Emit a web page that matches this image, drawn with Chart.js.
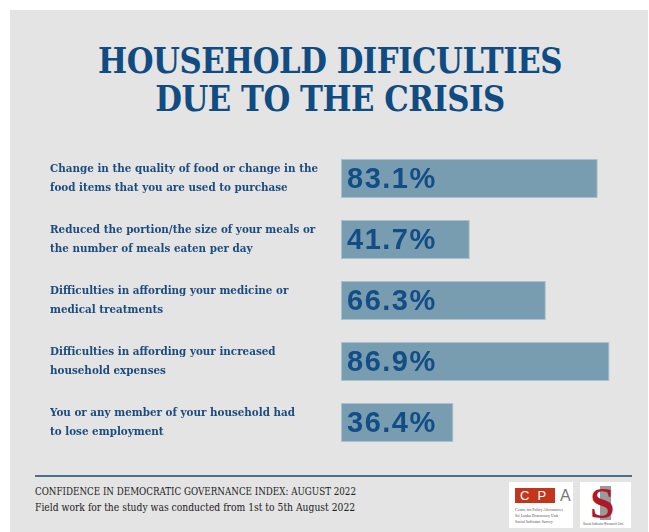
<!DOCTYPE html>
<html>
<head>
<meta charset="utf-8">
<script src="https://cdn.jsdelivr.net/npm/chart.js@4/dist/chart.umd.min.js"></script>
<style>
  html, body { margin: 0; padding: 0; background: #fff; overflow: hidden; }
  body { width: 649px; height: 532px; position: relative; }
  #panel { position: absolute; left: 10px; top: 10px; width: 638px; height: 522px; background: #e4e4e4; }
  #title {
    position: absolute; left: 0; width: 660px; top: 41px; text-align: center;
    font-family: "DejaVu Serif Condensed", serif; font-weight: bold;
    font-size: 36px; line-height: 38px; color: #104c82; letter-spacing: -0.5px;
    transform: scaleX(0.95); transform-origin: 330px 0;
  }
  #wrap { position: absolute; left: 0; top: 140px; width: 650px; height: 320px; }
  #rule { position: absolute; left: 35px; top: 475px; width: 597px; height: 2px; background: #4e6f88; }
  .foot {
    position: absolute; left: 35px; font-family: "DejaVu Serif Condensed", serif;
    font-size: 10.5px; line-height: 16px; color: #222; white-space: nowrap; transform-origin: 0 0;
  }
  #f1 { top: 483px; transform: scaleX(0.925); }
  #f2 { top: 499px; transform: scaleX(0.975); }
  .logo { position: absolute; top: 482px; height: 46px; background: #fff; }
  #cpa { left: 509px; width: 64px; }
  #cpa .red { position: absolute; left: 6px; top: 6px; width: 40px; height: 15px; background: #c2361e; color: #fff;
    font: 13px "Liberation Sans", sans-serif; line-height: 15px; letter-spacing: 8px; text-indent: 5px; }
  #cpa .a { position: absolute; left: 51px; top: 5px; font: 16px "Liberation Sans", sans-serif; color: #777; }
  #cpa .small { position: absolute; left: 6px; top: 25px; width: 56px; font: 4px "Liberation Serif", serif; color: #555; line-height: 6px; }
  #ss { left: 580px; width: 51px; }
  #ss .i { position: absolute; left: 20px; top: 4px; width: 11px; height: 34px; background: #9a9a9a; }
  #ss .s { position: absolute; left: 10px; top: -4px; font: bold 44px "Liberation Serif", serif; color: #b0182a; }
  #ss .cap { position: absolute; left: 3px; top: 40px; font: 3px "Liberation Sans", sans-serif; color: #555; }
</style>
</head>
<body>
<div id="panel"></div>
<div id="title">HOUSEHOLD DIFICULTIES<br>DUE TO THE CRISIS</div>
<div id="wrap"><canvas id="chart"></canvas></div>
<div id="rule"></div>
<div class="foot" id="f1">CONFIDENCE IN DEMOCRATIC GOVERNANCE INDEX: AUGUST 2022</div>
<div class="foot" id="f2">Field work for the study was conducted from 1st to 5th August 2022</div>
<div class="logo" id="cpa"><div class="red">CP</div><div class="a">A</div><div class="small">Centre for Policy Alternatives<br>Sri Lanka Democracy Unit<br>Social Indicator Survey</div></div>
<div class="logo" id="ss"><div class="i"></div><div class="s">S</div><div class="cap">Social Indicator Research Unit</div></div>
<script>
// datos del gráfico
var categorias = [
    ['Change in the quality of food or change in the', 'food items that you are used to purchase'],
    ['Reduced the portion/the size of your meals or', 'the number of meals eaten per day'],
    ['Difficulties in affording your medicine or', 'medical treatments'],
    ['Difficulties in affording your increased', 'household expenses'],
    ['You or any member of your household had', 'to lose employment']
];
var valores = [83.1, 41.7, 66.3, 86.9, 36.4];
var ejeX = { min: 0, max: 100 };

// texto del valor dentro de cada barra
var etiquetasValor = {
    id: 'etiquetasValor',
    afterDatasetsDraw: function(chart) {
        var ctx = chart.ctx;
        var meta = chart.getDatasetMeta(0);
        ctx.save();
        ctx.font = 'bold 29px "Liberation Sans", Arial, sans-serif';
        ctx.fillStyle = '#134d86';
        ctx.textAlign = 'left';
        ctx.textBaseline = 'middle';
        if ('letterSpacing' in ctx) ctx.letterSpacing = '1.5px';
        meta.data.forEach(function(bar, i) {
            ctx.fillText(valores[i].toFixed(1) + '%', bar.base + 6, bar.y + 1);
        });
        ctx.restore();
    }
};

var ctx = document.getElementById('chart').getContext('2d');
var chart = new Chart(ctx, {
    type: 'bar',
    data: {
        labels: categorias,
        datasets: [{
            data: valores,
            backgroundColor: '#799db0',
            borderColor: '#a9c1ce',
            borderWidth: 1,
            borderSkipped: false,
            categoryPercentage: 1,
            barPercentage: 0.64
        }]
    },
    plugins: [etiquetasValor],
    options: {
        indexAxis: 'y',
        responsive: true,
        maintainAspectRatio: false,
        animation: false,
        layout: { padding: { left: 50, top: 8, bottom: 7, right: 0 } },
        plugins: {
            legend: { display: false },
            tooltip: { enabled: false }
        },
        scales: {
            x: {
                min: ejeX.min,
                max: ejeX.max,
                display: false
            },
            y: {
                grid: { display: false },
                border: { display: false },
                afterFit: function(scale) {
                    scale.width = 291;
                    scale.paddingTop = 0;
                    scale.paddingBottom = 0;
                },
                ticks: {
                    crossAlign: 'far',
                    color: '#1c4b7d',
                    padding: 0,
                    font: { family: '"DejaVu Serif Condensed", serif', weight: 'bold', size: 11.5, lineHeight: 1.6 }
                }
            }
        }
    }
});
</script>
</body>
</html>
